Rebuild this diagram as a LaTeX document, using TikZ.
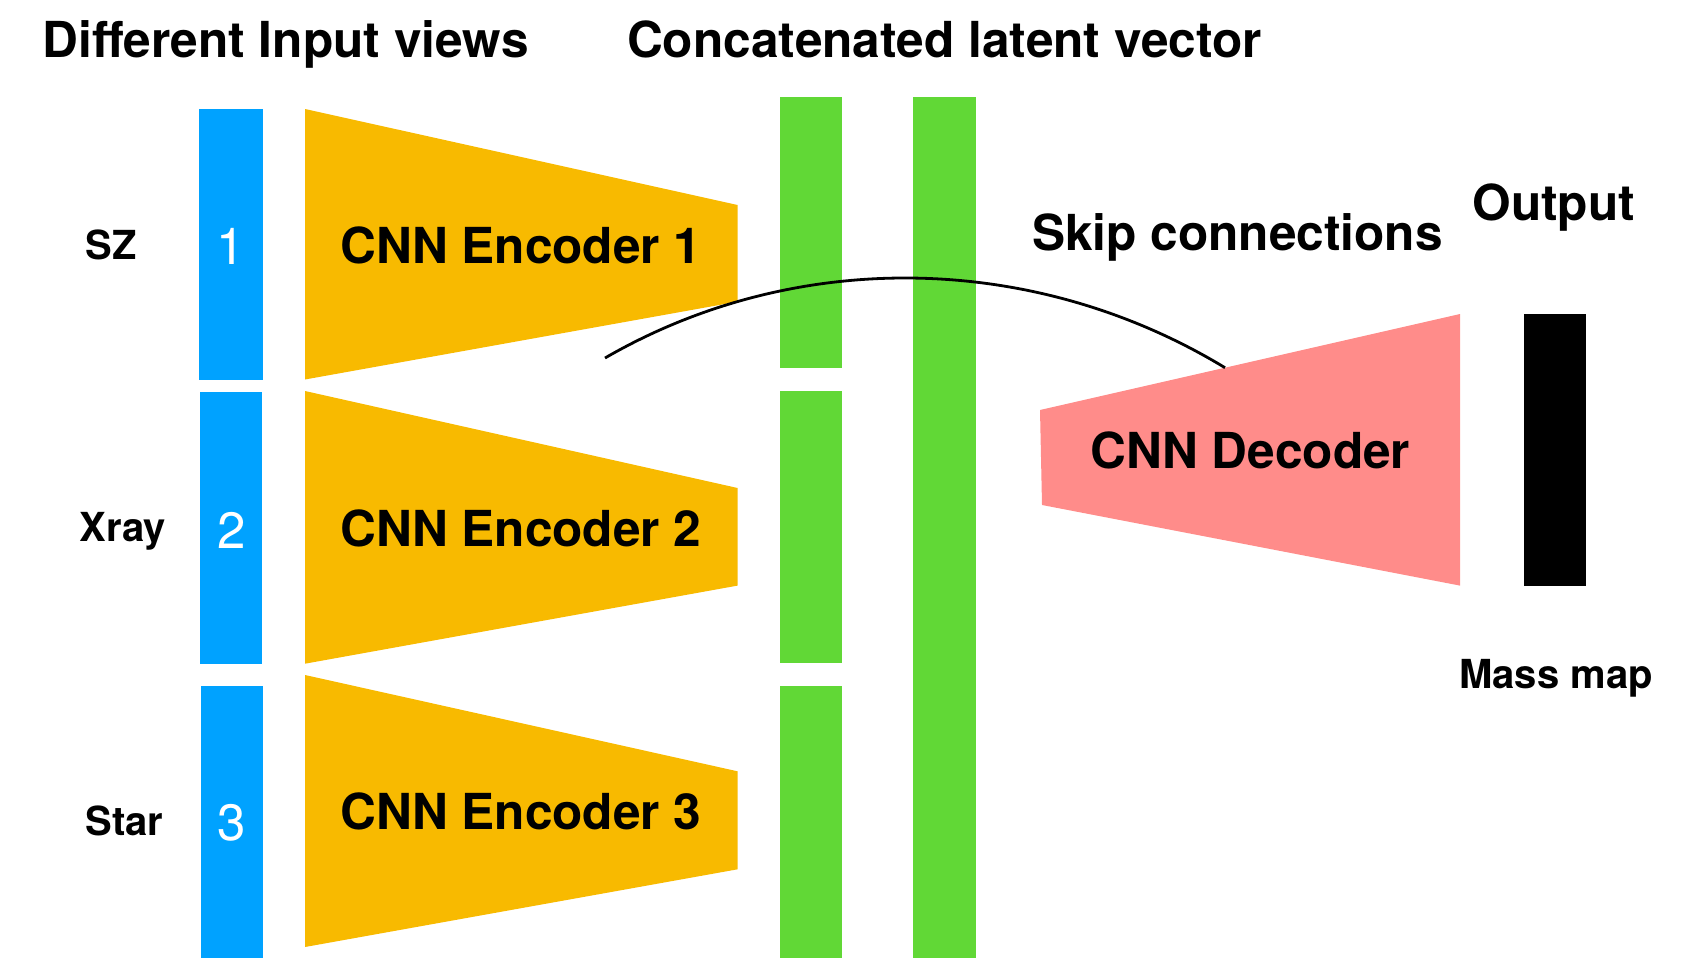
\documentclass[tikz,border=0pt]{standalone}
\usepackage{fontspec}
\setmainfont{TeX Gyre Heros}
\definecolor{inblue}{HTML}{00A2FF}
\definecolor{encorange}{HTML}{F8BA00}
\definecolor{latgreen}{HTML}{61D836}
\definecolor{decpink}{HTML}{FF8C8A}
\begin{document}
\begin{tikzpicture}[x=0.5pt,y=-0.5pt,
  big/.style={font=\fontsize{24.8pt}{28pt}\selectfont\bfseries, inner sep=0pt, anchor=base},
  small/.style={font=\fontsize{20pt}{23pt}\selectfont\bfseries, inner sep=0pt, anchor=base},
  digit/.style={font=\fontsize{25.5pt}{28pt}\selectfont, text=white, inner sep=0pt, anchor=base},
  bluebar/.style={fill=inblue},
  encshape/.style={fill=encorange},
  greenbar/.style={fill=latgreen},
  decshape/.style={fill=decpink},
  outbar/.style={fill=black},
  skipline/.style={draw=black, line width=1.4pt}]
\useasboundingbox (0,0) rectangle (1681,958);
% titles
\node[big] (tin) at (285.5,57) {Different Input views};
\node[big] (tlat) at (944.5,57) {Concatenated latent vector};
\node[big] (tskip) at (1237.5,250) {Skip connections};
\node[big] (tout) at (1553.7,220) {Output};
% input bars
\fill[bluebar] (199,109) rectangle (263,379.5);
\fill[bluebar] (200,392) rectangle (262,663.5);
\fill[bluebar] (201,686) rectangle (263,958);
\node[digit] (d1) at (231,264) {1};
\node[digit] (d2) at (231.5,548) {2};
\node[digit] (d3) at (231.5,840) {3};
% input labels
\node[small] (lsz) at (111,259.5) {SZ};
\node[small] (lxray) at (123,541.5) {Xray};
\node[small] (lstar) at (124.5,835.5) {Star};
% encoders
\fill[encshape] (305,109) -- (737.6,205) -- (737.6,301.7) -- (305,379.5) -- cycle;
\fill[encshape] (305,391) -- (737.6,488) -- (737.6,585.6) -- (305,663.7) -- cycle;
\fill[encshape] (305,675) -- (737.6,771.3) -- (737.6,869.3) -- (305,947) -- cycle;
\node[big] (e1) at (521,263.3) {CNN Encoder 1};
\node[big] (e2) at (521,546.4) {CNN Encoder 2};
\node[big] (e3) at (521,829.3) {CNN Encoder 3};
% latent bars
\fill[greenbar] (780,97) rectangle (841.6,367.7);
\fill[greenbar] (780,391) rectangle (841.6,663);
\fill[greenbar] (780,686) rectangle (841.6,958);
\fill[greenbar] (913.4,97) rectangle (976,958);
% decoder
\fill[decshape] (1040,410) -- (1460,314) -- (1460,585.6) -- (1042,505) -- cycle;
\node[big] (dec) at (1250.4,468.8) {CNN Decoder};
% output
\fill[outbar] (1524,314) rectangle (1586,585.6);
\node[small] (lmass) at (1556,688.8) {Mass map};
% skip connection
\coordinate (skipA) at (605,358);
\coordinate (skipB) at (1225,367.7);
\draw[skipline] (skipA) .. controls (797,247) and (1035.5,252.7) .. (skipB);
\end{tikzpicture}
\end{document}
